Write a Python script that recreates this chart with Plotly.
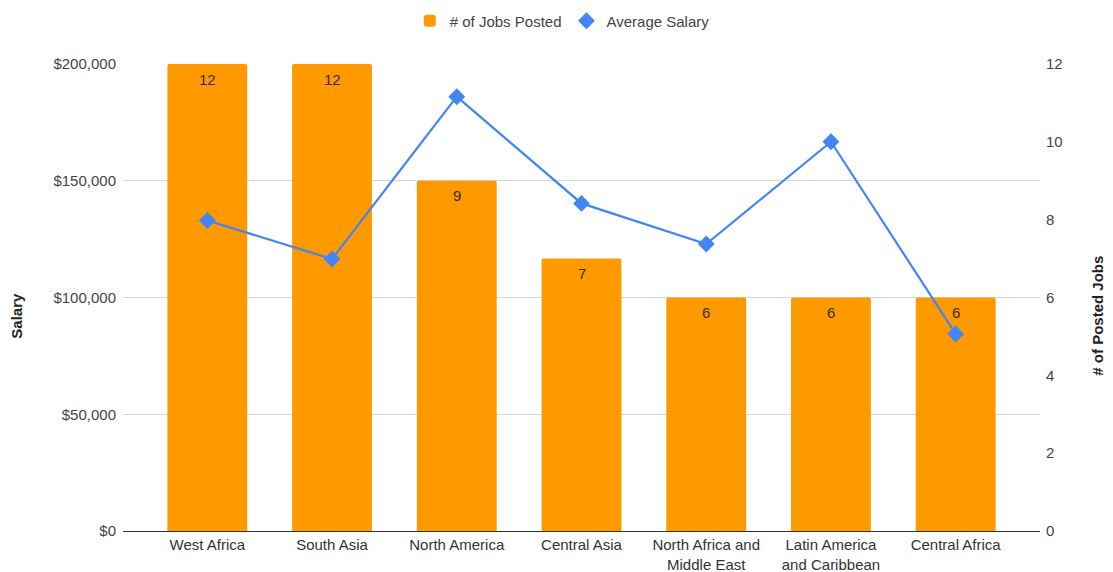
import plotly.graph_objects as go

regions = ["West Africa", "South Asia", "North America", "Central Asia",
           "North Africa and<br>Middle East", "Latin America<br>and Caribbean", "Central Africa"]
jobs_posted = [12, 12, 9, 7, 6, 6, 6]
avg_salary = [133000, 116500, 186000, 140300, 122900, 166700, 84400]
salary_ticks = [0, 50000, 100000, 150000, 200000]
salary_labels = ["$0", "$50,000", "$100,000", "$150,000", "$200,000"]
jobs_ticks = [0, 2, 4, 6, 8, 10, 12]

FONT = "Liberation Sans, Arial, sans-serif"
FS = 15

fig = go.Figure()
fig.add_trace(go.Bar(
    x=regions, y=jobs_posted, name="# of Jobs Posted",
    marker=dict(color="#FF9900", cornerradius=2, line=dict(width=0)),
    yaxis="y", width=0.64,
))
fig.add_trace(go.Scatter(
    x=regions, y=avg_salary, name="Average Salary", mode="lines",
    line=dict(color="#4285F4", width=2.2), showlegend=False,
    yaxis="y2",
))
fig.add_trace(go.Scatter(
    x=regions, y=avg_salary, name="Average Salary", mode="markers",
    marker=dict(symbol="diamond", size=13, color="#4285F4"),
    yaxis="y2",
))

# value labels at top of bars
for r, v in zip(regions, jobs_posted):
    fig.add_annotation(x=r, y=v, xref="x", yref="y", text=str(v), showarrow=False,
                       yshift=-15, font=dict(size=FS, color="#3a2a10", family=FONT))

fig.add_annotation(text="<b>Salary</b>", xref="paper", yref="paper", x=-0.1145, y=0.46,
                   xshift=-12, textangle=-90, showarrow=False, font=dict(size=FS, color="#222"))
fig.add_annotation(text="<b># of Posted Jobs</b>", xref="paper", yref="paper", x=1.0709, y=0.46,
                   xshift=3, textangle=-90, showarrow=False, font=dict(size=FS, color="#222"))

fig.update_layout(
    width=1105, height=564,
    margin=dict(l=115, r=73, t=56, b=41, autoexpand=False),
    paper_bgcolor="white", plot_bgcolor="white",
    font=dict(family=FONT, size=FS, color="#444"),
    showlegend=True,
    legend=dict(orientation="h", x=0.479, xanchor="center", y=1.092, yanchor="middle",
                font=dict(size=FS, color="#444"), traceorder="normal"),
    xaxis=dict(range=[-0.676, 6.676], showgrid=False, showline=True, linecolor="#333",
               linewidth=1, ticks="", tickfont=dict(size=FS, color="#333")),
    yaxis=dict(range=[0, 12], tickvals=jobs_ticks, side="right", showgrid=False,
               zeroline=False, ticks="", ticklabelstandoff=5,
               tickfont=dict(size=FS, color="#444")),
    yaxis2=dict(range=[0, 200000], tickvals=salary_ticks, ticktext=salary_labels,
                overlaying="y", side="left", showgrid=True, gridcolor="#d6d6d6",
                zeroline=False, ticks="", ticklabelstandoff=6,
                tickfont=dict(size=FS, color="#444")),
)

fig.write_html("out.html")
